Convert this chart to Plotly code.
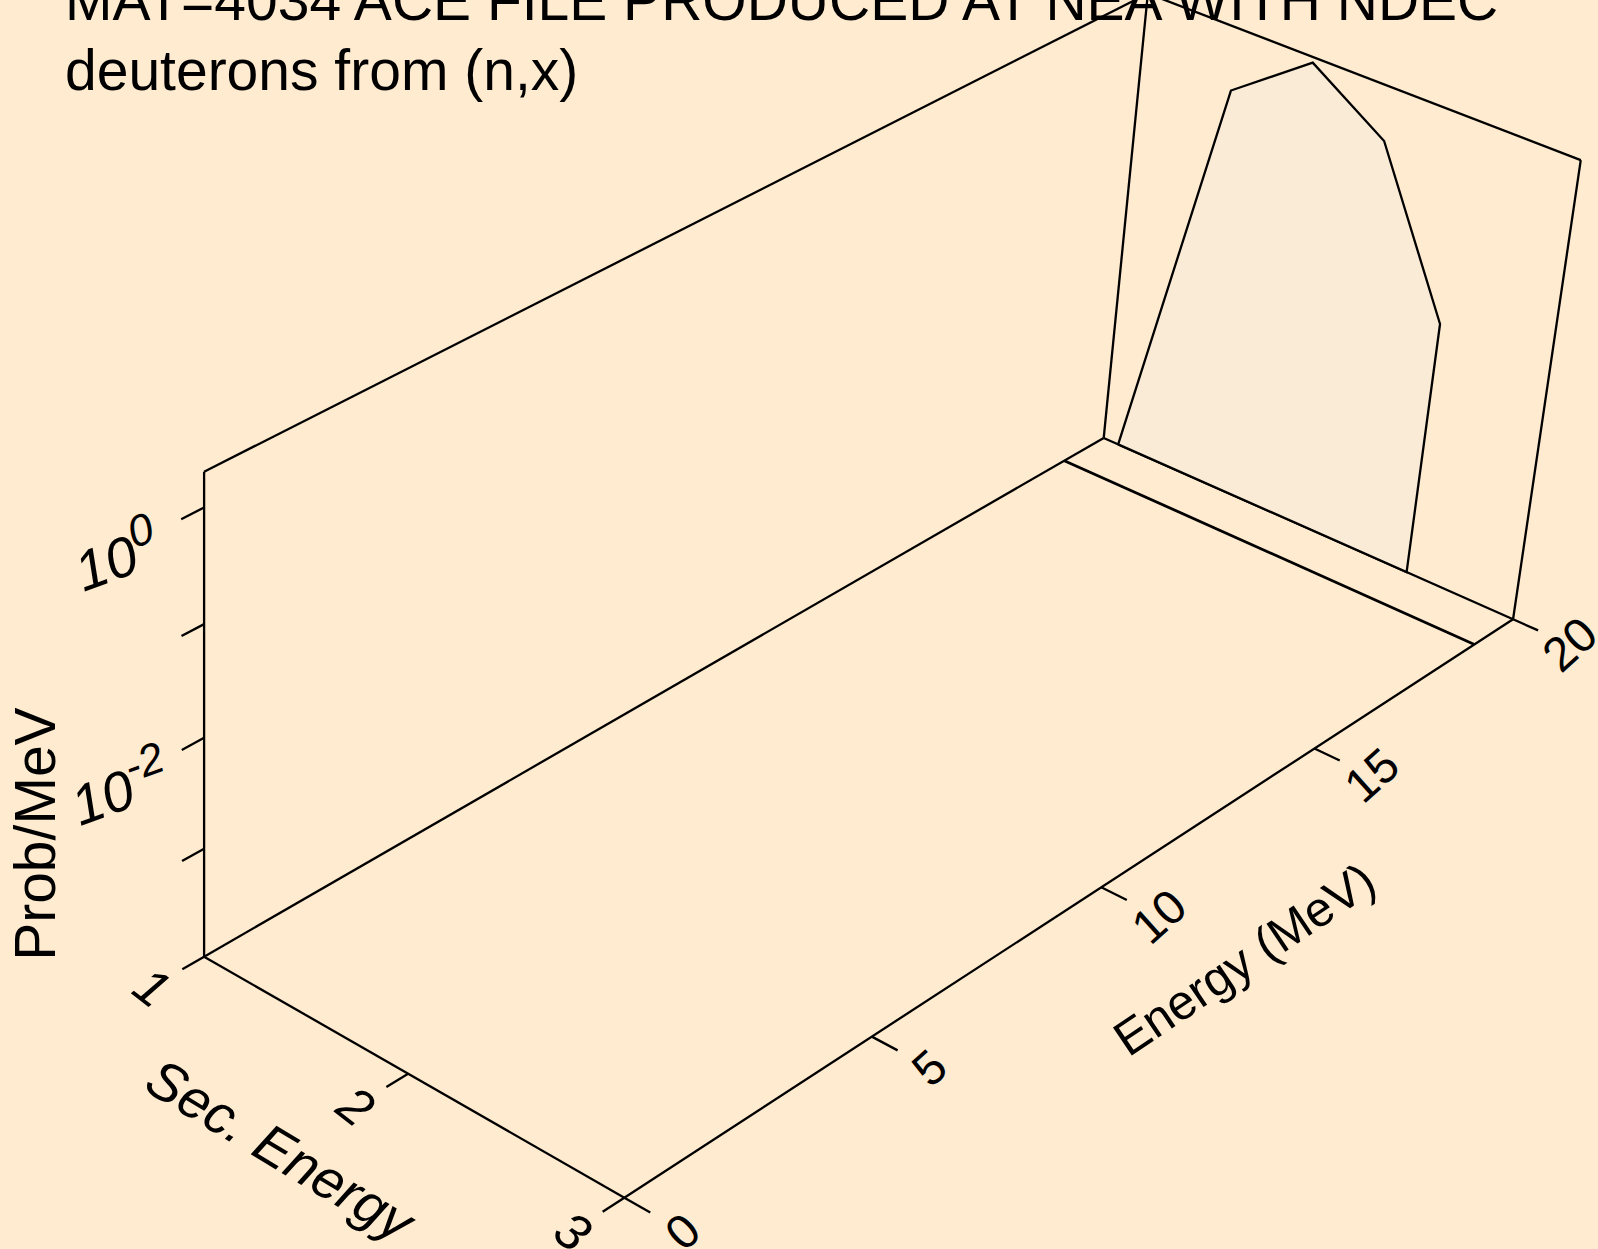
import numpy as np
import plotly.graph_objects as go

# ---------------- data ----------------
TITLE_LINE1 = "MAT=4034 ACE FILE PRODUCED AT NEA WITH NDEC"
TITLE_LINE2 = "deuterons from (n,x)"

SEC_RANGE = [1.0, 3.0]          # secondary energy axis (MeV)
E_RANGE = [0.0, 20.0]           # incident energy axis (MeV)
PROB_RANGE = [1e-4, 2.0]        # Prob/MeV (log)

SEC_TICKS = [1, 2, 3]
SEC_TICK_LABELS = ["1", "2", "3"]
E_TICKS = [0, 5, 10, 15, 20]
E_TICK_LABELS = ["0", "5", "10", "15", "20"]
PROB_TICKS = [1e0, 1e-1, 1e-2, 1e-3]
PROB_TICK_BASE = ["10", "", "10", ""]
PROB_TICK_EXP = ["0", "", "-2", ""]

# spectra at two incident energies
E_19 = 19.0
SEC_19 = [1.0, 3.0]
PROB_19 = [0.0, 0.0]

E_20 = 20.0
SEC_20 = [1.074, 1.433, 1.790, 2.149, 2.499, 2.499]
PROB_20 = [0.0, 0.532, 1.784, 0.647, 0.0249, 0.0]

# ---------------- styling / view ----------------
BG = "#FFEBD0"
FILL = "#FAEBD7"
FONT = "Liberation Sans, Arial, sans-serif"
W, H = 1598, 1249
LW = 2.3

# perspective camera (homogeneous projection of the unit box)
CAM_ORIGIN = (204.1, 956.7)
CAM_VP = {"u": (-6824.0, -3074.0), "v": (7137.0, -3041.0), "w": (204.0, 9500.0)}
CAM_D = {"u": -0.05642, "v": 0.14911, "w": -0.05372}


def proj_norm(u, v, w):
    u = np.asarray(u, float); v = np.asarray(v, float); w = np.asarray(w, float)
    den = 1 + CAM_D["u"] * u + CAM_D["v"] * v + CAM_D["w"] * w
    x = (CAM_ORIGIN[0] + CAM_VP["u"][0] * CAM_D["u"] * u + CAM_VP["v"][0] * CAM_D["v"] * v
         + CAM_VP["w"][0] * CAM_D["w"] * w) / den
    y = (CAM_ORIGIN[1] + CAM_VP["u"][1] * CAM_D["u"] * u + CAM_VP["v"][1] * CAM_D["v"] * v
         + CAM_VP["w"][1] * CAM_D["w"] * w) / den
    return x, y


def to_norm(sec, e, p):
    sec = np.asarray(sec, float); e = np.asarray(e, float)
    p = np.clip(np.asarray(p, float), PROB_RANGE[0], PROB_RANGE[1])
    u = (sec - SEC_RANGE[0]) / (SEC_RANGE[1] - SEC_RANGE[0])
    v = (e - E_RANGE[0]) / (E_RANGE[1] - E_RANGE[0])
    lz0, lz1 = np.log10(PROB_RANGE[0]), np.log10(PROB_RANGE[1])
    w = (np.log10(p) - lz0) / (lz1 - lz0)
    return u, v, w


def proj(sec, e, p):
    return proj_norm(*to_norm(sec, e, p))


fig = go.Figure()


def add_segments(segs, width=LW, color="black"):
    xs, ys = [], []
    for a, b in segs:
        x, y = proj([a[0], b[0]], [a[1], b[1]], [a[2], b[2]])
        xs += list(x) + [None]
        ys += list(y) + [None]
    fig.add_trace(go.Scatter(x=xs, y=ys, mode="lines", line=dict(color=color, width=width),
                             hoverinfo="skip", showlegend=False))


s0, s1 = SEC_RANGE
e0, e1 = E_RANGE
z0, z1 = PROB_RANGE

# box edges
add_segments([
    ((s0, e0, z0), (s0, e1, z0)),
    ((s1, e0, z0), (s1, e1, z0)),
    ((s0, e0, z0), (s1, e0, z0)),
    ((s0, e1, z0), (s1, e1, z0)),
    ((s0, e0, z0), (s0, e0, z1)),
    ((s0, e1, z0), (s0, e1, z1)),
    ((s1, e1, z0), (s1, e1, z1)),
    ((s0, e0, z1), (s0, e1, z1)),
    ((s0, e1, z1), (s1, e1, z1)),
])

# ticks
dv = 0.021 * (e1 - e0)
du = 0.058 * (s1 - s0)
add_segments([((s, e0, z0), (s, e0 - dv, z0)) for s in SEC_TICKS])
add_segments([((s1, e, z0), (s1 + du, e, z0)) for e in E_TICKS])
add_segments([((s0, e0, p), (s0, e0 - dv, p)) for p in PROB_TICKS])

# spectrum at 19 MeV (below floor -> drawn on floor)
x19, y19 = proj(SEC_19, [E_19] * len(SEC_19), PROB_19)
fig.add_trace(go.Scatter(x=x19, y=y19, mode="lines", line=dict(color="black", width=2.8),
                         hoverinfo="skip", showlegend=False))

# spectrum at 20 MeV (filled curtain)
x20, y20 = proj(SEC_20 + [SEC_20[0]], [E_20] * (len(SEC_20) + 1), PROB_20 + [PROB_20[0]])
fig.add_trace(go.Scatter(x=x20, y=y20, mode="lines", fill="toself", fillcolor=FILL,
                         line=dict(color="black", width=LW), hoverinfo="skip", showlegend=False))

ann = []


def label(xy, text, size, angle, italic=False):
    x, y = xy
    t = f"<i>{text}</i>" if italic else text
    ann.append(dict(x=float(x), y=float(y), xref="x", yref="y", text=t, showarrow=False,
                    xanchor="center", yanchor="middle", textangle=angle,
                    font=dict(family=FONT, size=size, color="black")))


# sec tick labels
for s, t in zip(SEC_TICKS, SEC_TICK_LABELS):
    label(proj(s, e0 - 0.05 * (e1 - e0), z0), t, 52, 38, italic=True)
# energy tick labels
for e, t in zip(E_TICKS, E_TICK_LABELS):
    label(proj(s1 + 0.13 * (s1 - s0), e, z0), t, 48, -42)
# prob tick labels
for p, b, x in zip(PROB_TICKS, PROB_TICK_BASE, PROB_TICK_EXP):
    if b:
        txt = f"{b}<sup><span style='font-size:44px'>{x}</span></sup>"
        label(proj(s0, e0 - 0.08 * (e1 - e0), p), txt, 56, -20, italic=True)

# axis titles
label(proj_norm(0.5, -0.12, 0.0), "Sec. Energy", 55, 31, italic=True)
label(proj_norm(1.32, 0.5, 0.0), "Energy (MeV)", 49, -34)
label(proj_norm(0.0, -0.156, 0.457), "Prob/MeV", 57, -90)

# title
ann.append(dict(x=63 / W, y=1.0 - 0 / H, xref="paper", yref="paper", text=TITLE_LINE1,
                showarrow=False, xanchor="left", yanchor="middle",
                font=dict(family=FONT, size=57, color="black")))
ann.append(dict(x=63 / W, y=1.0 - 70 / H, xref="paper", yref="paper", text=TITLE_LINE2,
                showarrow=False, xanchor="left", yanchor="middle",
                font=dict(family=FONT, size=57, color="black")))

fig.update_layout(
    width=W, height=H, margin=dict(l=0, r=0, t=0, b=0),
    paper_bgcolor=BG, plot_bgcolor=BG,
    xaxis=dict(range=[0, W], visible=False, fixedrange=True),
    yaxis=dict(range=[H, 0], visible=False, fixedrange=True),
    annotations=ann, showlegend=False,
)

fig.write_html("out.html", config={"displayModeBar": False},
               post_script="document.body.style.margin='0';")
